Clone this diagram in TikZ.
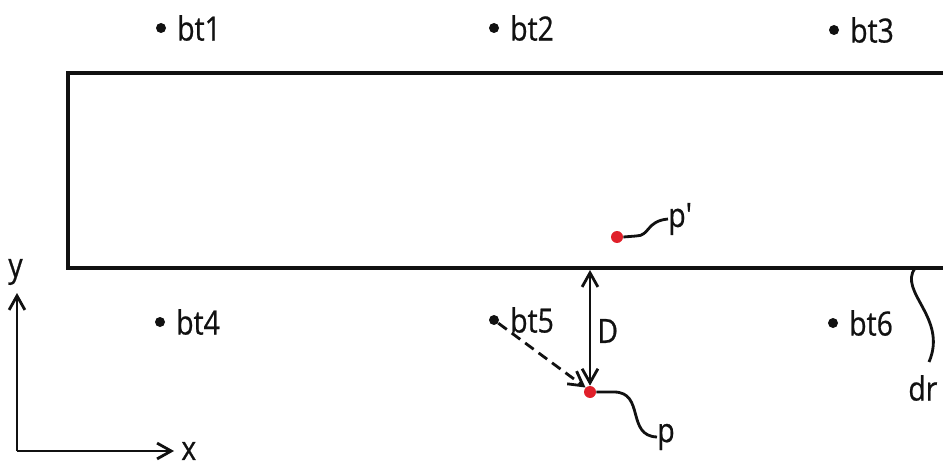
\documentclass[tikz,border=0pt]{standalone}
\usepackage{fontspec}
\setmainfont{Open Sans}[FakeStretch=0.85,FakeBold=0.6]
\definecolor{ptred}{HTML}{E0202A}
\definecolor{ink}{HTML}{111111}
\usetikzlibrary{arrows.meta,positioning}

\begin{document}
\begin{tikzpicture}[x=0.02cm,y=-0.02cm,
    dot/.style={circle,fill=ink,inner sep=0pt,minimum size=0.2cm},
    rdot/.style={circle,fill=ptred,inner sep=0pt,minimum size=0.24cm},
    lbl/.style={inner sep=0pt,font=\fontsize{19}{22}\selectfont,text=ink,anchor=west},
    ar/.style={-{Straight Barb[length=8pt,width=9pt]},ink,line width=1.6pt},
    dim/.style={{Straight Barb[length=8pt,width=9pt]}-{Straight Barb[length=8pt,width=9pt]},ink,line width=1.6pt},
    lead/.style={ink,line width=1.6pt},
  ]
    \useasboundingbox (0,0) rectangle (943,466);
    % box
    \draw[ink,line width=2.6pt] (950,73) -- (68,73) -- (68,268) -- (950,268);
    % points above
    \node[dot](b1) at (161,28) {};
    \node[lbl,right=6pt of b1](l1) {bt1};
    \node[dot](b2) at (494,28) {};
    \node[lbl,right=6pt of b2](l2) {bt2};
    \node[dot](b3) at (834,30) {};
    \node[lbl,right=6pt of b3](l3) {bt3};
    % points below
    \node[dot](b4) at (160,322) {};
    \node[lbl,right=6pt of b4](l4) {bt4};
    \node[dot](b5) at (494,320) {};
    \node[lbl,right=6pt of b5](l5) {bt5};
    \node[dot](b6) at (833,323) {};
    \node[lbl,right=6pt of b6](l6) {bt6};
    % p and p'
    \node[rdot](pp) at (617,237) {};
    \node[lbl](lpp) at (668,219) {p\textquotesingle};
    \node[rdot](pd) at (590,392) {};
    \node[lbl](lpd) at (657,437) {p};
    \draw[lead](pp.east) -- (636,236) .. controls (650,236) and (646,221) .. (lpp.west);
    \draw[lead](pd.east) -- (614,392) .. controls (645,392) and (626,436) .. (lpd.west);
    % distance D
    \coordinate (dtop) at (590,270);
    \draw[dim](dtop) -- (pd.north);
    \node[lbl](dl) at (597,331) {D};
    \draw[ar,dash pattern=on 6pt off 3.5pt](b5) -- (pd.north west);
    % dr
    \coordinate (drs) at (915,268);
    \node[lbl](ldr) at (908,388) {dr};
    \draw[lead](drs) .. controls (898,292) and (948,318) .. (929,362);
    % axes
    \coordinate (o) at (17,451);
    \coordinate (ye) at (17,293);
    \coordinate (xe) at (174,451);
    \draw[ar](o) -- (ye);
    \draw[ar](o) -- (xe);
    \node[lbl](ly) at (8,272) {y};
    \node[lbl](lx) at (181,451) {x};
  \end{tikzpicture}
\end{document}
